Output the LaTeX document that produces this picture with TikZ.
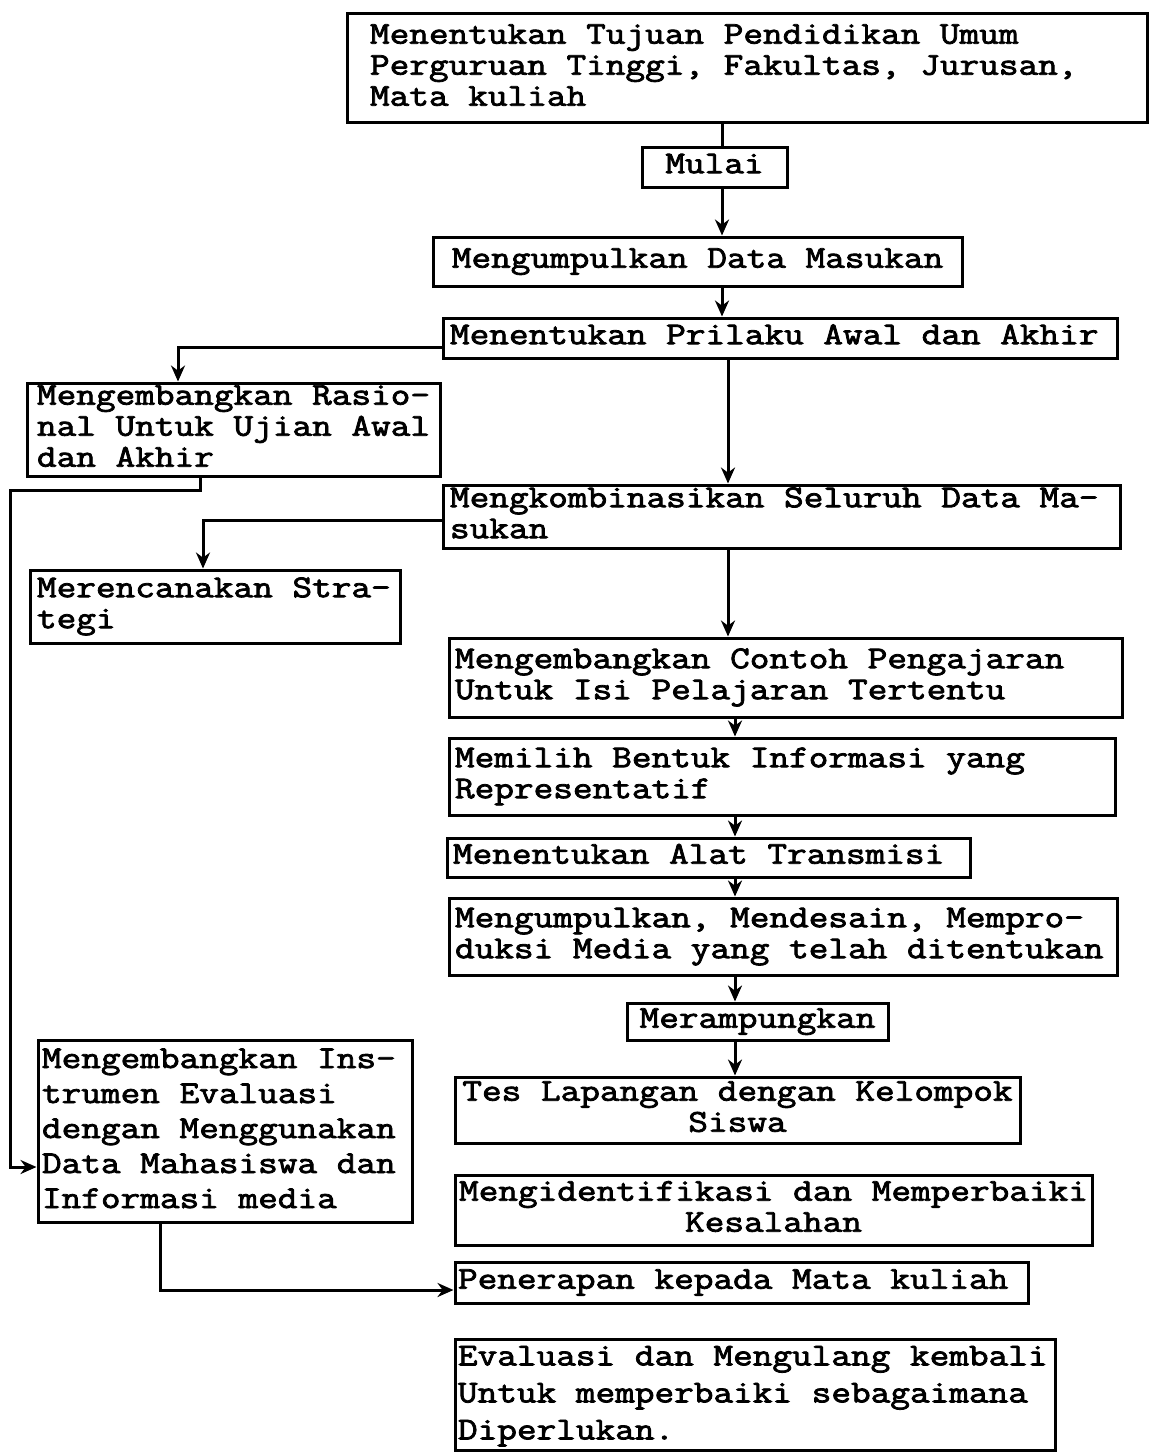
\documentclass[tikz,border=0pt]{standalone}
\usepackage{fontspec}
\newfontfamily\tw[FakeStretch=1.2,FakeBold=2.5]{Latin Modern Mono}
\usetikzlibrary{arrows.meta}
\newcommand\twlines[1]{{\spaceskip=0pt\xspaceskip=0pt\begin{tabular}{@{}l@{}}#1\end{tabular}}}
\newcommand\twcenter[1]{{\spaceskip=0pt\xspaceskip=0pt\begin{tabular}{@{}c@{}}#1\end{tabular}}}
\begin{document}
\begin{tikzpicture}[x=1pt,y=-1pt,
  box/.style={draw, line width=3pt, inner ysep=0pt, font=\tw\fontsize{31.8pt}{31pt}\selectfont},
  conn/.style={line width=3pt},
  arr/.style={conn,-{Stealth[length=16pt,width=14pt]}}]
\fill[white] (0,0) rectangle (1149,1453);
\useasboundingbox (0,0) rectangle (1149,1453);

\node[box, minimum width=800pt, minimum height=109pt, inner xsep=23pt, text width=754pt, align=flush left] (tujuan) at (747,68.5)
  {\twlines{Menentukan Tujuan Pendidikan Umum\\Perguruan Tinggi, Fakultas, Jurusan,\\Mata kuliah}};
\node[box, minimum width=145pt, minimum height=40pt, align=center] (mulai) at (714.5,167) {\twcenter{Mulai}};
\node[box, minimum width=529pt, minimum height=49pt, align=center] (datam) at (697.5,261.5) {\twcenter{Mengumpulkan Data Masukan}};
\node[box, minimum width=674pt, minimum height=40pt, inner xsep=7pt, text width=660pt, align=flush left] (prilaku) at (780,338)
  {\twlines{Menentukan Prilaku Awal dan Akhir}};
\node[box, minimum width=413pt, minimum height=93pt, inner xsep=10pt, text width=393pt, align=flush left] (rasional) at (233.5,429.5)
  {\twlines{Mengembangkan Rasio-\\nal Untuk Ujian Awal\\dan Akhir}};
\node[box, minimum width=677pt, minimum height=63pt, inner xsep=7pt, text width=663pt, align=flush left] (kombinasi) at (781.5,516.5)
  {\twlines{Mengkombinasikan Seluruh Data Ma-\\sukan}};
\node[box, minimum width=370pt, minimum height=73pt, inner xsep=7pt, text width=356pt, align=flush left] (strategi) at (215,606.5)
  {\twlines{Merencanakan Stra-\\tegi}};
\node[box, minimum width=673pt, minimum height=79pt, inner xsep=6pt, text width=661pt, align=flush left] (contoh) at (785.5,677.5)
  {\twlines{Mengembangkan Contoh Pengajaran\\Untuk Isi Pelajaran Tertentu}};
\node[box, minimum width=666pt, minimum height=77pt, inner xsep=6pt, text width=654pt, align=flush left] (memilih) at (782,776.5)
  {\twlines{Memilih Bentuk Informasi yang\\Representatif}};
\node[box, minimum width=523pt, minimum height=39pt, inner xsep=6pt, text width=511pt, align=flush left] (alat) at (708.5,857.5)
  {\twlines{Menentukan Alat Transmisi}};
\node[box, minimum width=668pt, minimum height=77pt, inner xsep=6pt, text width=656pt, align=flush left] (produksi) at (783,936.5)
  {\twlines{Mengumpulkan, Mendesain, Mempro-\\duksi Media yang telah ditentukan}};
\node[box, minimum width=261pt, minimum height=37pt, align=center] (rampung) at (757.5,1021.5) {\twcenter{Merampungkan}};
\node[box, minimum width=565pt, minimum height=66pt, align=center] (tes) at (737.5,1110)
  {\twcenter{Tes Lapangan dengan Kelompok\\Siswa}};
\node[box, minimum width=637pt, minimum height=70pt, align=center] (identifikasi) at (773.5,1210)
  {\twcenter{Mengidentifikasi dan Memperbaiki\\Kesalahan}};
\node[box, minimum width=573pt, minimum height=41pt, inner xsep=3pt, text width=567pt, align=flush left] (penerapan) at (741.5,1282.5)
  {\twlines{Penerapan kepada Mata kuliah}};
\node[box, minimum width=600pt, minimum height=110pt, inner xsep=3pt, text width=594pt, align=flush left,
  font=\tw\fontsize{31.8pt}{37pt}\selectfont] (evaluasi) at (755,1395)
  {\twlines{Evaluasi dan Mengulang kembali\\Untuk memperbaiki sebagaimana\\Diperlukan.}};
\node[box, minimum width=374pt, minimum height=182pt, inner xsep=4pt, text width=366pt, align=flush left,
  font=\tw\fontsize{31.8pt}{35pt}\selectfont] (instrumen) at (225,1131)
  {\twlines{Mengembangkan Ins-\\trumen Evaluasi\\dengan Menggunakan\\Data Mahasiswa dan\\Informasi media}};

% main spine
\coordinate (s1) at (722,0);
\coordinate (s2) at (728,0);
\coordinate (s3) at (735,0);
\draw[conn] (tujuan.south -| s1) -- (mulai.north -| s1);
\draw[arr] (mulai.south -| s1) -- (datam.north -| s1);
\draw[arr] (datam.south -| s1) -- (prilaku.north -| s1);
\draw[arr] (prilaku.south -| s2) -- (kombinasi.north -| s2);
\draw[arr] (kombinasi.south -| s2) -- (contoh.north -| s2);
\draw[arr] (contoh.south -| s3) -- (memilih.north -| s3);
\draw[arr] (memilih.south -| s3) -- (alat.north -| s3);
\draw[arr] (alat.south -| s3) -- (produksi.north -| s3);
\draw[arr] (produksi.south -| s3) -- (rampung.north -| s3);
\draw[arr] (rampung.south -| s3) -- (tes.north -| s3);

% left branches
\coordinate (r1) at (178,347);
\draw[arr] (prilaku.west |- r1) -| (rasional.north -| r1);
\coordinate (r2) at (203,520);
\draw[arr] (kombinasi.west |- r2) -| (strategi.north -| r2);
\coordinate (r3) at (200,490);
\coordinate (r4) at (10,1167);
\draw[arr] (rasional.south -| r3) -- (r3) -| (r4) -- (instrumen.west |- r4);
\coordinate (r5) at (160,1290);
\draw[arr] (instrumen.south -| r5) |- (penerapan.west |- r5);
\end{tikzpicture}
\end{document}
